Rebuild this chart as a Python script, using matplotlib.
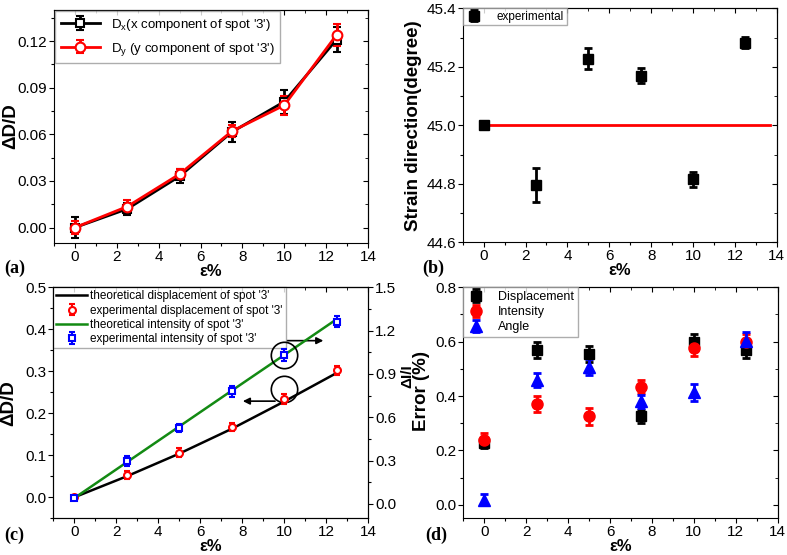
import matplotlib
matplotlib.use('Agg')
import matplotlib.pyplot as plt
from matplotlib.ticker import MultipleLocator, FormatStrFormatter

plt.rcParams['font.family'] = ['Liberation Sans', 'DejaVu Sans']
plt.rcParams['mathtext.fontset'] = 'custom'
plt.rcParams['mathtext.rm'] = 'Liberation Sans'

#%% data
strain = [0, 2.5, 5, 7.5, 10, 12.5]

# (a) relative change of spot distance
dx = [0.000, 0.012, 0.033, 0.0615, 0.081, 0.121]
dx_err = [0.0066, 0.004, 0.0045, 0.0065, 0.0077, 0.008]
dy = [0.000, 0.0135, 0.0344, 0.062, 0.0787, 0.124]
dy_err = [0.004, 0.004, 0.003, 0.004, 0.006, 0.007]

# (b) strain direction
angle = [45.0, 44.796, 45.228, 45.17, 44.815, 45.283]
angle_err = [0.0, 0.058, 0.035, 0.027, 0.026, 0.018]
angle_ref_x = [0, 13.7]
angle_ref_y = [45.0, 45.0]

# (c) displacement / intensity
disp_theory = [0, 0.050, 0.104, 0.163, 0.228, 0.296]
disp_exp = [0, 0.0537, 0.1066, 0.167, 0.233, 0.302]
disp_exp_err = [0.003, 0.01, 0.01, 0.01, 0.012, 0.01]
int_theory = [0.04, 0.288, 0.536, 0.784, 1.031, 1.279]
int_exp = [0.04, 0.295, 0.525, 0.779, 1.03, 1.263]
int_exp_err = [0.01, 0.035, 0.03, 0.04, 0.04, 0.04]

# (d) errors
err_disp = [0.227, 0.57, 0.555, 0.325, 0.60, 0.57]
err_disp_e = [0.02, 0.03, 0.03, 0.025, 0.03, 0.03]
err_int = [0.24, 0.371, 0.325, 0.435, 0.576, 0.597]
err_int_e = [0.025, 0.03, 0.03, 0.025, 0.03, 0.03]
err_ang = [0.018, 0.46, 0.508, 0.38, 0.413, 0.604]
err_ang_e = [0.02, 0.025, 0.03, 0.025, 0.03, 0.03]

TICK = 11
LAB = 13.5


def style(ax, ymaj, right_in=True):
    ax.set_xlim(-1, 14)
    ax.xaxis.set_major_locator(MultipleLocator(2))
    ax.xaxis.set_minor_locator(MultipleLocator(1))
    ax.yaxis.set_major_locator(MultipleLocator(ymaj))
    ax.yaxis.set_minor_locator(MultipleLocator(ymaj / 2))
    ax.tick_params(which='major', direction='out', length=3.5, width=0.8,
                   labelsize=TICK, pad=1.5)
    ax.tick_params(which='minor', direction='out', length=2, width=0.8)
    for s in ax.spines.values():
        s.set_linewidth(0.8)
    top = ax.secondary_xaxis('top')
    top.xaxis.set_major_locator(MultipleLocator(2))
    top.xaxis.set_minor_locator(MultipleLocator(1))
    top.tick_params(which='both', direction='in', labeltop=False)
    top.tick_params(which='major', length=3.5)
    top.tick_params(which='minor', length=2)
    if right_in:
        r = ax.secondary_yaxis('right')
        r.yaxis.set_major_locator(MultipleLocator(ymaj))
        r.yaxis.set_minor_locator(MultipleLocator(ymaj / 2))
        r.tick_params(which='both', direction='in', labelright=False)
        r.tick_params(which='major', length=3.5)
        r.tick_params(which='minor', length=2)
    ax.set_xlabel('ε%', fontsize=12, fontweight='bold', labelpad=0)


fig = plt.figure(figsize=(7.87, 5.55), dpi=100)

#%% (a)
ax = fig.add_axes([0.0686, 0.562, 0.399, 0.420])
ax.errorbar(strain, dx, yerr=dx_err, color='k', lw=2, marker='s', ms=6,
            mfc='white', mec='k', mew=1.5, capsize=3, elinewidth=2, capthick=2,
            label="D$_\\mathregular{x}$(x component of spot '3')")
ax.errorbar(strain, dy, yerr=dy_err, color='red', lw=2, marker='o', ms=7,
            mfc='white', mec='red', mew=1.5, capsize=3, elinewidth=2, capthick=2,
            label="D$_\\mathregular{y}$ (y component of spot '3')")
ax.set_ylim(-0.01, 0.14)
style(ax, 0.03)
ax.yaxis.set_major_formatter(FormatStrFormatter('%.2f'))
ax.set_ylabel('ΔD/D', fontsize=LAB, fontweight='bold')
ax.yaxis.set_label_coords(-0.112, 0.5)
ax.legend(loc='upper left', fontsize=9.5, frameon=True, fancybox=False,
          edgecolor='#999999', borderaxespad=0.1, handlelength=3,
          labelspacing=0.6)

#%% (b)
ax = fig.add_axes([0.588, 0.5634, 0.399, 0.4216])
ax.plot(angle_ref_x, angle_ref_y, color='red', lw=2)
ax.errorbar(strain, angle, yerr=angle_err, fmt='s', color='k', ms=7,
            capsize=3, elinewidth=2, capthick=2, label='experimental')
ax.set_ylim(44.6, 45.4)
style(ax, 0.2)
ax.set_ylabel('Strain direction(degree)', fontsize=LAB, fontweight='bold')
ax.yaxis.set_label_coords(-0.13, 0.5)
ax.legend(loc='upper left', fontsize=8.5, frameon=True, fancybox=False,
          edgecolor='#999999', borderaxespad=0, handlelength=1.5,
          borderpad=0.2, handletextpad=1.2)

#%% (c)
ax = fig.add_axes([0.0677, 0.0661, 0.400, 0.4162])
ax2 = ax.twinx()
l1, = ax.plot(strain, disp_theory, color='k', lw=1.8,
              label="theoretical displacement of spot '3'")
l2 = ax.errorbar(strain, disp_exp, yerr=disp_exp_err, fmt='o', color='red',
                 ms=5, mfc='white', mew=1.5, capsize=2.5, elinewidth=1.5,
                 capthick=1.5, label="experimental displacement of spot '3'")
l3, = ax2.plot(strain, int_theory, color='#138a13', lw=1.8,
               label="theoretical intensity of spot '3'")
l4 = ax2.errorbar(strain, int_exp, yerr=int_exp_err, fmt='s', color='blue',
                  ms=5, mfc='white', mew=1.5, capsize=2.5, elinewidth=1.5,
                  capthick=1.5, label="experimental intensity of spot '3'")
ax.set_ylim(-0.05, 0.5)
ax2.set_ylim(-0.1, 1.5)
style(ax, 0.1, right_in=False)
ax2.yaxis.set_major_locator(MultipleLocator(0.3))
ax2.yaxis.set_minor_locator(MultipleLocator(0.15))
ax2.tick_params(which='major', direction='out', length=3.5, width=0.8,
                labelsize=TICK, pad=1.5)
ax2.tick_params(which='minor', direction='out', length=2, width=0.8)
ax.set_ylabel('ΔD/D', fontsize=LAB, fontweight='bold')
ax.yaxis.set_label_coords(-0.115, 0.5)
ax2.set_ylabel('ΔI/I', fontsize=11, fontweight='bold')
ax2.yaxis.set_label_coords(1.103, 0.616)
# circles and arrows pointing to the axes
ax2.plot(strain[4], int_exp[4], 'o', ms=19, mfc='none', mec='k', mew=1.2)
ax.plot(strain[4], disp_exp[4] + 0.025, 'o', ms=19, mfc='none', mec='k', mew=1.2)
ax.annotate('', xy=(12.0, 0.373), xytext=(10.0, 0.373),
            arrowprops=dict(arrowstyle='-|>', color='k', lw=1.2))
ax.annotate('', xy=(7.9, 0.229), xytext=(9.7, 0.229),
            arrowprops=dict(arrowstyle='-|>', color='k', lw=1.2))
ax.legend([l1, l2, l3, l4], [h.get_label() for h in [l1, l2, l3, l4]],
          loc='upper left', fontsize=8.5, frameon=True, fancybox=False,
          edgecolor='#999999', borderaxespad=0, handlelength=2.6,
          labelspacing=0.2, borderpad=0.25, handletextpad=0.3)

#%% (d)
ax = fig.add_axes([0.5887, 0.0661, 0.3995, 0.4162])
ax.errorbar(strain, err_disp, yerr=err_disp_e, fmt='s', color='k', ms=7,
            capsize=3, elinewidth=2, capthick=2, label='Displacement')
ax.errorbar(strain, err_int, yerr=err_int_e, fmt='o', color='red', ms=8,
            capsize=3, elinewidth=2, capthick=2, label='Intensity')
ax.errorbar(strain, err_ang, yerr=err_ang_e, fmt='^', color='blue', ms=8,
            capsize=3, elinewidth=2, capthick=2, label='Angle')
ax.set_ylim(-0.05, 0.8)
style(ax, 0.2)
ax.set_ylabel('Error (%)', fontsize=LAB, fontweight='bold')
ax.yaxis.set_label_coords(-0.105, 0.55)
ax.legend(loc='upper left', fontsize=9, frameon=True, fancybox=False,
          edgecolor='#999999', borderaxespad=0, handlelength=1.5,
          labelspacing=0.25, borderpad=0.3, handletextpad=1.0)

#%% panel letters
for x, y, t in [(0.006, 0.517, '(a)'), (0.536, 0.517, '(b)'),
                (0.006, 0.036, '(c)'), (0.540, 0.036, '(d)')]:
    fig.text(x, y, t, fontsize=13, fontweight='bold', family='Liberation Serif',
             va='center')

fig.savefig('out.png', dpi=100)
